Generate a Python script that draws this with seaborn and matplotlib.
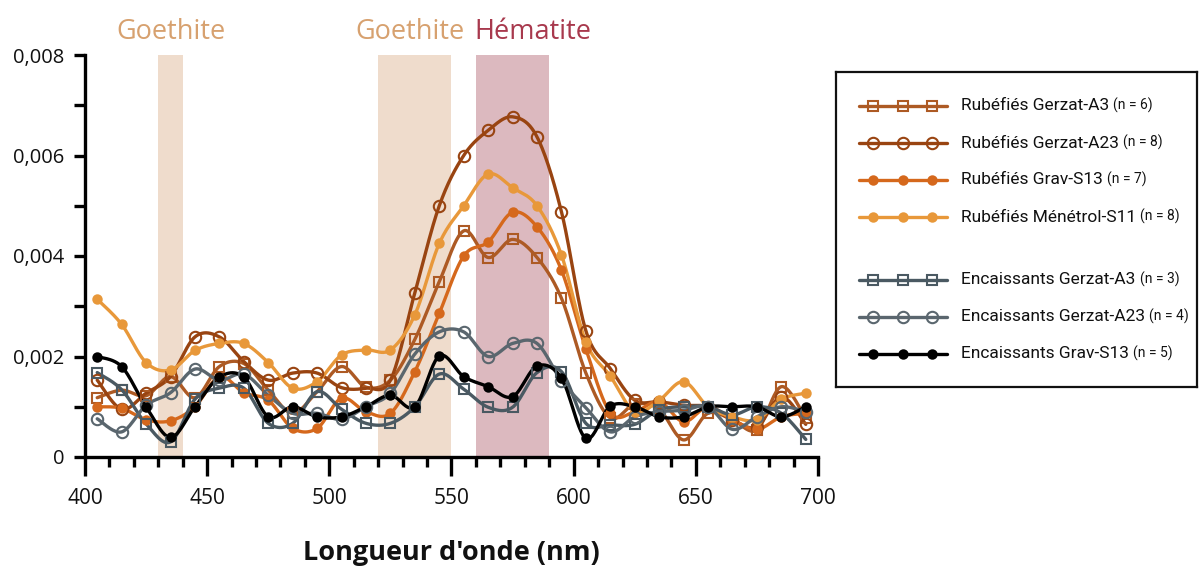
import numpy as np
import pandas as pd
import matplotlib
matplotlib.use("Agg")
import matplotlib.pyplot as plt
import seaborn as sns
from matplotlib.ticker import MultipleLocator, FuncFormatter

# Wavelengths of the spectral measurements (nm)
wavelength = [405, 415, 425, 435, 445, 455, 465, 475, 485, 495,
              505, 515, 525, 535, 545, 555, 565, 575, 585, 595,
              605, 615, 625, 635, 645, 655, 665, 675, 685, 695]

# First-derivative reflectance spectra, mean per group
rub_gerzat_a3 = [0.00118, 0.00133, 0.00122, 0.00160, 0.00118, 0.00180, 0.00186, 0.00133, 0.00087, 0.00130,
                 0.00180, 0.00139, 0.00153, 0.00234, 0.00349, 0.00450, 0.00397, 0.00433, 0.00397, 0.00316,
                 0.00167, 0.00078, 0.00105, 0.00095, 0.00034, 0.00087, 0.00074, 0.00054, 0.00140, 0.00077]
rub_gerzat_a23 = [0.00153, 0.00095, 0.00127, 0.00160, 0.00239, 0.00239, 0.00190, 0.00153, 0.00167, 0.00167,
                  0.00138, 0.00137, 0.00153, 0.00327, 0.00500, 0.00600, 0.00650, 0.00677, 0.00637, 0.00488,
                  0.00251, 0.00176, 0.00113, 0.00110, 0.00103, 0.00100, 0.00074, 0.00060, 0.00120, 0.00065]
rub_grav_s13 = [0.00100, 0.00097, 0.00074, 0.00072, 0.00100, 0.00160, 0.00128, 0.00113, 0.00057, 0.00057,
                0.00117, 0.00090, 0.00087, 0.00170, 0.00286, 0.00400, 0.00428, 0.00487, 0.00458, 0.00372,
                0.00215, 0.00088, 0.00090, 0.00110, 0.00070, 0.00100, 0.00074, 0.00055, 0.00080, 0.00087]
rub_menetrol_s11 = [0.00314, 0.00264, 0.00188, 0.00173, 0.00212, 0.00226, 0.00226, 0.00188, 0.00137, 0.00150,
                    0.00203, 0.00213, 0.00213, 0.00283, 0.00425, 0.00500, 0.00563, 0.00536, 0.00500, 0.00402,
                    0.00229, 0.00161, 0.00090, 0.00113, 0.00150, 0.00100, 0.00080, 0.00074, 0.00115, 0.00127]
enc_gerzat_a3 = [0.00168, 0.00134, 0.00066, 0.00030, 0.00115, 0.00137, 0.00137, 0.00067, 0.00067, 0.00130,
                 0.00095, 0.00067, 0.00067, 0.00100, 0.00165, 0.00135, 0.00099, 0.00099, 0.00168, 0.00170,
                 0.00067, 0.00064, 0.00065, 0.00094, 0.00100, 0.00100, 0.00084, 0.00100, 0.00087, 0.00035]
enc_gerzat_a23 = [0.00076, 0.00050, 0.00103, 0.00128, 0.00175, 0.00153, 0.00165, 0.00123, 0.00087, 0.00087,
                  0.00075, 0.00100, 0.00127, 0.00205, 0.00249, 0.00249, 0.00200, 0.00226, 0.00226, 0.00152,
                  0.00098, 0.00050, 0.00080, 0.00090, 0.00093, 0.00100, 0.00055, 0.00080, 0.00100, 0.00090]
enc_grav_s13 = [0.00200, 0.00180, 0.00100, 0.00039, 0.00100, 0.00159, 0.00159, 0.00080, 0.00100, 0.00080,
                0.00080, 0.00100, 0.00123, 0.00100, 0.00201, 0.00160, 0.00140, 0.00120, 0.00181, 0.00157,
                0.00037, 0.00101, 0.00100, 0.00080, 0.00080, 0.00100, 0.00100, 0.00100, 0.00080, 0.00100]

series_names = ["Rubéfiés Gerzat-A3", "Rubéfiés Gerzat-A23", "Rubéfiés Grav-S13",
                "Rubéfiés Ménétrol-S11", "Encaissants Gerzat-A3", "Encaissants Gerzat-A23",
                "Encaissants Grav-S13"]
series_counts = ["(n = 6)", "(n = 8)", "(n = 7)", "(n = 8)", "(n = 3)", "(n = 4)", "(n = 5)"]
series_values = [rub_gerzat_a3, rub_gerzat_a23, rub_grav_s13, rub_menetrol_s11,
                 enc_gerzat_a3, enc_gerzat_a23, enc_grav_s13]

# Absorption bands of iron oxides (nm)
band_names = ["Goethite", "Goethite", "Hématite"]
band_ranges = [(430, 440), (520, 550), (560, 590)]
band_label_x = [435, 533, 583.5]

styles = [
    dict(color="#ad5a24", marker="s", ms=6.8, mfc="none"),
    dict(color="#994411", marker="o", ms=8.2, mfc="none"),
    dict(color="#d5681c", marker="o", ms=6.0, mfc=None),
    dict(color="#e8983a", marker="o", ms=6.0, mfc=None),
    dict(color="#4a5962", marker="s", ms=6.8, mfc="none"),
    dict(color="#5a666e", marker="o", ms=8.2, mfc="none"),
    dict(color="#000000", marker="o", ms=6.0, mfc=None),
]
band_fill = ["#efdccc", "#efdccc", "#dcb9bf"]
band_text = ["#d7a16f", "#d7a16f", "#a8394d"]

sns.set_style("white")
plt.rcParams["font.family"] = ["Open Sans", "DejaVu Sans"]
plt.rcParams["text.color"] = "#111111"
plt.rcParams["axes.labelcolor"] = "#111111"


def smooth_curve(x, y, steps=24):
    """Piecewise cubic Bezier through the points (smoothed line)."""
    x = np.asarray(x, float)
    y = np.asarray(y, float)
    n = len(x)
    xs, ys = [], []
    for i in range(n - 1):
        p0 = np.array([x[max(i - 1, 0)], y[max(i - 1, 0)]])
        p1 = np.array([x[i], y[i]])
        p2 = np.array([x[i + 1], y[i + 1]])
        p3 = np.array([x[min(i + 2, n - 1)], y[min(i + 2, n - 1)]])
        c1 = p1 + (p2 - p0) / 6.0
        c2 = p2 - (p3 - p1) / 6.0
        t = np.linspace(0, 1, steps, endpoint=(i == n - 2))[:, None]
        pts = ((1 - t) ** 3) * p1 + 3 * ((1 - t) ** 2) * t * c1 + 3 * (1 - t) * t ** 2 * c2 + t ** 3 * p2
        xs.append(pts[:, 0])
        ys.append(pts[:, 1])
    return np.concatenate(xs), np.concatenate(ys)


fig = plt.figure(figsize=(12.03, 5.67), dpi=100)
W, H = 1203, 567
ax = fig.add_axes([85 / W, 1 - 457 / H, (818 - 85) / W, (457 - 55) / H])

for (lo, hi), fc in zip(band_ranges, band_fill):
    ax.axvspan(lo, hi, color=fc, lw=0, zorder=0)

for name, vals, st in zip(series_names, series_values, styles):
    sx, sy = smooth_curve(wavelength, vals)
    curve = pd.DataFrame({"nm": sx, "value": sy})
    sns.lineplot(data=curve, x="nm", y="value", ax=ax, color=st["color"], lw=2.4,
                 sort=False, estimator=None, zorder=3)
    ax.plot(wavelength, vals, ls="none", marker=st["marker"], ms=st["ms"],
            mec=st["color"], mfc=st["mfc"] if st["mfc"] else st["color"],
            mew=1.5, zorder=4)

ax.set_xlim(400, 700)
ax.set_ylim(0, 0.008)
ax.xaxis.set_major_locator(MultipleLocator(50))
ax.xaxis.set_minor_locator(MultipleLocator(10))
ax.yaxis.set_major_locator(MultipleLocator(0.002))
ax.yaxis.set_minor_locator(MultipleLocator(0.001))
ax.yaxis.set_major_formatter(FuncFormatter(
    lambda v, p: "0" if abs(v) < 1e-12 else f"{v:.3f}".replace(".", ",")))

for s in ["top", "right"]:
    ax.spines[s].set_visible(False)
for s in ["left", "bottom"]:
    ax.spines[s].set_linewidth(2.4)
    ax.spines[s].set_color("black")

ax.tick_params(axis="x", which="major", direction="out", length=13.5, width=2.4,
               pad=9, labelsize=15, bottom=True, color="black", labelcolor="#111111")
ax.tick_params(axis="x", which="minor", direction="out", length=7, width=2.4,
               bottom=True, color="black")
ax.tick_params(axis="y", which="both", direction="out", length=8, width=2.4,
               left=True, color="black")
ax.tick_params(axis="y", which="major", pad=7, labelsize=14.5, labelcolor="#111111")

ax.set_xlabel("Longueur d'onde (nm)", fontsize=19.5, fontweight="bold", labelpad=22)
ax.set_ylabel("")
ax.grid(False)

for name, xc, col in zip(band_names, band_label_x, band_text):
    ax.text(xc, 0.00846, name, ha="center", va="center", fontsize=19.5,
            color=col, clip_on=False)

# Legend panel
lx0, lx1, ly0, ly1 = 836, 1197, 71.7, 387
lax = fig.add_axes([lx0 / W, 1 - ly1 / H, (lx1 - lx0) / W, (ly1 - ly0) / H])
lax.set_xlim(lx0, lx1)
lax.set_ylim(ly1, ly0)
lax.set_xticks([])
lax.set_yticks([])
for s in lax.spines.values():
    s.set_visible(True)
    s.set_linewidth(1.6)
    s.set_color("#111111")

row_y = [106, 143, 180, 217, 280, 317, 354]
legend_font = ["Roboto", "DejaVu Sans"]
for name, cnt, st, yy in zip(series_names, series_counts, styles, row_y):
    lax.plot([859, 947], [yy, yy], color=st["color"], lw=2.4)
    lax.plot([873, 903, 932], [yy, yy, yy], ls="none", marker=st["marker"], ms=st["ms"],
             mec=st["color"], mfc=st["mfc"] if st["mfc"] else st["color"], mew=1.5)
    t = lax.text(961, yy, name, ha="left", va="center", fontsize=12.5,
                 family=legend_font, color="#111111")
    lax.annotate(cnt, xy=(1, 0), xycoords=t, xytext=(3, 0.3), textcoords="offset points",
                 ha="left", va="bottom", fontsize=10, family=legend_font,
                 color="#111111")

fig.savefig("out.png", dpi=100)
